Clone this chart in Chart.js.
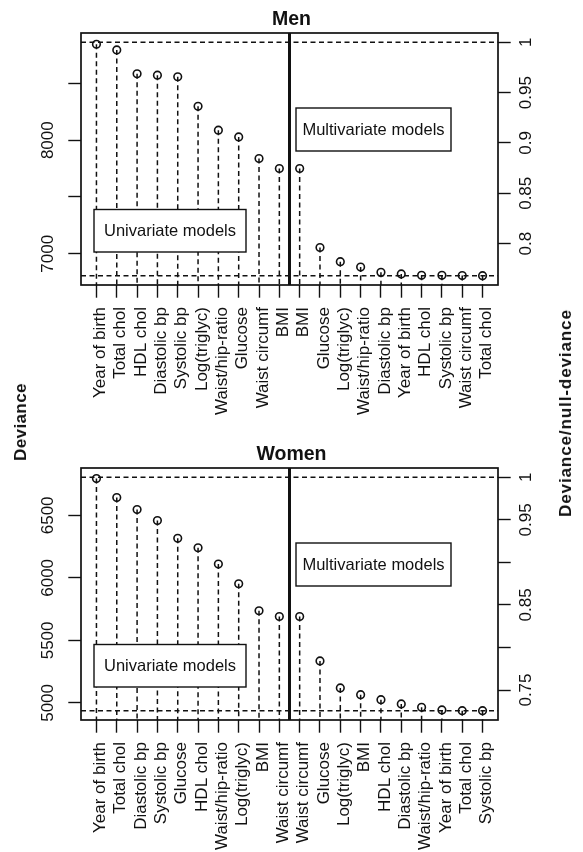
<!DOCTYPE html>
<html>
<head>
<meta charset="UTF-8">
<title>Deviance - Men / Women</title>
<script src="https://cdn.jsdelivr.net/npm/chart.js@4/dist/chart.umd.min.js"></script>
<style>
  body { margin: 0; background: #fff; }
  #wrap { position: relative; width: 583px; height: 852px; overflow: hidden; font-family: "Liberation Sans", Arial, sans-serif; }
  canvas { position: absolute; left: 0; }
  .axis-title { position: absolute; font-weight: bold; font-size: 17px; color: #111; white-space: nowrap;
                transform: translate(-50%, -50%) rotate(-90deg); }
</style>
</head>
<body>
<div id="wrap">
  <canvas id="men" width="583" height="430" style="top:0"></canvas>
  <canvas id="women" width="583" height="417" style="top:435px"></canvas>
  <div class="axis-title" style="left:21px; top:422px; letter-spacing:0.4px">Deviance</div>
  <div class="axis-title" style="left:565.5px; top:413px; letter-spacing:0.9px">Deviance/null-deviance</div>
</div>
<script>
// values
var menLabels = ['Year of birth', 'Total chol', 'HDL chol', 'Diastolic bp', 'Systolic bp', 'Log(triglyc)',
    'Waist/hip-ratio', 'Glucose', 'Waist circumf', 'BMI',
    'BMI', 'Glucose', 'Log(triglyc)', 'Waist/hip-ratio', 'Diastolic bp', 'Year of birth',
    'HDL chol', 'Systolic bp', 'Waist circumf', 'Total chol'];
var menDeviance = [8845, 8795, 8585, 8573, 8559, 8298, 8088, 8029, 7839, 7751,
    7751, 7055, 6930, 6883, 6836, 6822, 6810, 6810, 6808, 6807];
var menNull = 8862;
var menMin = 6807;
var menLeftTicks = [7000, 7500, 8000, 8500];
var menLeftTickLabels = ['7000', '', '8000', ''];
var menRightTicks = [0.8, 0.85, 0.9, 0.95, 1];
var menRightTickLabels = ['0.8', '0.85', '0.9', '0.95', '1'];

var womenLabels = ['Year of birth', 'Total chol', 'Diastolic bp', 'Systolic bp', 'Glucose', 'HDL chol',
    'Waist/hip-ratio', 'Log(triglyc)', 'BMI', 'Waist circumf',
    'Waist circumf', 'Glucose', 'Log(triglyc)', 'BMI', 'HDL chol', 'Diastolic bp',
    'Waist/hip-ratio', 'Year of birth', 'Total chol', 'Systolic bp'];
var womenDeviance = [6794, 6642, 6546, 6458, 6316, 6241, 6110, 5953, 5737, 5691,
    5691, 5336, 5120, 5066, 5026, 4992, 4965, 4944, 4938, 4938];
var womenNull = 6804;
var womenMin = 4938;
var womenLeftTicks = [5000, 5500, 6000, 6500];
var womenLeftTickLabels = ['5000', '5500', '6000', '6500'];
var womenRightTicks = [0.75, 0.8, 0.85, 0.9, 0.95, 1];
var womenRightTickLabels = ['0.75', '', '0.85', '', '0.95', '1'];

var nUni = 10;   // first 10 are univariate models, the rest multivariate

var INK = '#111';
var FONT = '"Liberation Sans", Arial, sans-serif';
var FSIZE = 17;
Chart.defaults.font.family = FONT;
Chart.defaults.font.size = FSIZE;
Chart.defaults.color = INK;

function widest(labels) {
    var ctx = document.createElement('canvas').getContext('2d');
    ctx.font = FSIZE + 'px ' + FONT;
    var w = 0;
    labels.forEach(function(s) { w = Math.max(w, ctx.measureText(s).width); });
    return w;
}

// plot furniture: stems, divider, frame and the two label boxes
var rPlot = {
    id: 'rPlot',
    beforeDatasetsDraw: function(chart) {
        var ctx = chart.ctx, a = chart.chartArea;
        var meta = chart.getDatasetMeta(0);
        ctx.save();
        ctx.beginPath();
        ctx.rect(a.left, a.top, a.right - a.left, a.bottom - a.top);
        ctx.clip();
        ctx.strokeStyle = INK;
        ctx.lineWidth = 1.5;
        ctx.setLineDash([5, 3.5]);
        meta.data.forEach(function(pt) {
            ctx.beginPath();
            ctx.moveTo(pt.x, pt.y);
            ctx.lineTo(pt.x, a.bottom);
            ctx.stroke();
        });
        ctx.setLineDash([]);
        var xd = chart.scales.x.getPixelForValue(nUni + 0.5);
        ctx.lineWidth = 3;
        ctx.beginPath();
        ctx.moveTo(xd, a.top);
        ctx.lineTo(xd, a.bottom);
        ctx.stroke();
        ctx.restore();
    },
    afterDatasetsDraw: function(chart) {
        var ctx = chart.ctx, a = chart.chartArea;
        ctx.save();
        ctx.lineWidth = 1.4;
        ctx.strokeStyle = INK;
        ctx.font = '16.5px ' + FONT;
        ctx.textAlign = 'center';
        ctx.textBaseline = 'middle';
        [[94, 209.5, 246, 252, 'Univariate models'], [296, 108, 451, 151, 'Multivariate models']].forEach(function(b) {
            ctx.fillStyle = '#fff';
            ctx.fillRect(b[0], b[1], b[2] - b[0], b[3] - b[1]);
            ctx.strokeRect(b[0], b[1], b[2] - b[0], b[3] - b[1]);
            ctx.fillStyle = INK;
            ctx.fillText(b[4], (b[0] + b[2]) / 2, (b[1] + b[3]) / 2 + 1);
        });
        ctx.lineWidth = 1.7;
        ctx.strokeRect(a.left, a.top, a.right - a.left, a.bottom - a.top);
        ctx.restore();
    }
};

function makeChart(id, title, labels, devs, nullDev, minDev, lTicks, lLabels, rTicks, rLabels) {
    var canvas = document.getElementById(id);
    var H = canvas.height;
    // R style range: data range widened by 4% on each side
    var span = nullDev - minDev;
    var yMin = minDev - 0.04 * span, yMax = nullDev + 0.04 * span;
    var xMin = 1 - 0.04 * (labels.length - 1), xMax = labels.length + 0.04 * (labels.length - 1);
    var xs = labels.map(function(l, i) { return i + 1; });
    var tl = 12.7;
    var grid = { display: true, drawOnChartArea: false, drawTicks: true, tickLength: tl, tickColor: INK, tickWidth: 1.4 };

    return new Chart(canvas, {
        type: 'line',
        data: {
            datasets: [{
                data: devs.map(function(v, i) { return { x: xs[i], y: v }; }),
                showLine: false,
                pointStyle: 'circle',
                pointRadius: 3.8,
                pointBorderWidth: 1.6,
                pointBorderColor: INK,
                pointBackgroundColor: 'rgba(0,0,0,0)'
            }, {
                data: [{ x: xMin, y: nullDev }, { x: xMax, y: nullDev }],
                borderColor: INK, borderWidth: 1.5, borderDash: [5, 3.5], pointRadius: 0
            }, {
                data: [{ x: xMin, y: minDev }, { x: xMax, y: minDev }],
                borderColor: INK, borderWidth: 1.5, borderDash: [5, 3.5], pointRadius: 0
            }]
        },
        options: {
            responsive: false,
            animation: false,
            events: [],
            layout: { padding: 0 },
            plugins: {
                legend: { display: false },
                tooltip: { enabled: false },
                title: {
                    display: true, text: title, color: INK,
                    font: { size: 19.5, weight: 'bold' },
                    padding: { top: 8, bottom: 1.6 }
                }
            },
            scales: {
                x: {
                    type: 'linear', min: xMin, max: xMax,
                    grid: grid, border: { display: false },
                    afterBuildTicks: function(s) { s.ticks = xs.map(function(v) { return { value: v }; }); },
                    afterFit: function(s) { s.height = H - 285; },
                    ticks: {
                        autoSkip: false, minRotation: 90, maxRotation: 90, padding: 9.3, labelOffset: 4,
                        callback: function(v, i) { return labels[i]; }
                    }
                },
                y: {
                    type: 'linear', position: 'left', min: yMin, max: yMax,
                    grid: grid, border: { display: false },
                    afterBuildTicks: function(s) { s.ticks = lTicks.map(function(v) { return { value: v }; }); },
                    afterFit: function(s) { s.width = 81; },
                    ticks: {
                        autoSkip: false, minRotation: 90, maxRotation: 90,
                        align: 'end', crossAlign: 'center', padding: 11.3 - widest(lLabels) / 2,
                        callback: function(v, i) { return lLabels[i]; }
                    }
                },
                y2: {
                    type: 'linear', position: 'right', min: yMin / nullDev, max: yMax / nullDev,
                    grid: grid, border: { display: false },
                    afterBuildTicks: function(s) { s.ticks = rTicks.map(function(v) { return { value: v }; }); },
                    afterFit: function(s) { s.width = 583 - 498; },
                    ticks: {
                        autoSkip: false, minRotation: 90, maxRotation: 90,
                        align: 'start', crossAlign: 'center', padding: 7.6 - widest(rLabels) / 2,
                        callback: function(v, i) { return rLabels[i]; }
                    }
                }
            }
        },
        plugins: [rPlot]
    });
}

makeChart('men', 'Men', menLabels, menDeviance, menNull, menMin,
    menLeftTicks, menLeftTickLabels, menRightTicks, menRightTickLabels);
makeChart('women', 'Women', womenLabels, womenDeviance, womenNull, womenMin,
    womenLeftTicks, womenLeftTickLabels, womenRightTicks, womenRightTickLabels);
</script>
</body>
</html>
